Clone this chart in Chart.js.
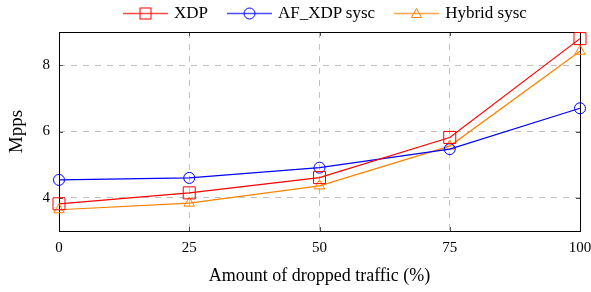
<!DOCTYPE html>
<html>
<head>
<meta charset="utf-8">
<script src="https://cdn.jsdelivr.net/npm/chart.js@4.4.1/dist/chart.umd.min.js"></script>
<style>
    html, body { margin: 0; padding: 0; background: #fff; }
    .wrap { position: relative; width: 591px; height: 292px; }
    .legend {
        position: absolute; left: 123px; top: 3px; height: 20px;
        display: flex; align-items: center;
        font-family: 'Liberation Serif', 'DejaVu Serif', serif; font-size: 17px; color: #000;
    }
    .legend-item { display: flex; align-items: center; margin-right: 19px; }
    .legend-item svg { margin-right: 6px; }
</style>
</head>
<body>
<div class="wrap">
    <canvas id="chart" width="591" height="292"></canvas>
    <div class="legend" id="legend"></div>
</div>
<script>
const traffic = [0, 25, 50, 75, 100];
const xdp = [3.82, 4.15, 4.61, 5.82, 8.80];
const afXdpSysc = [4.54, 4.60, 4.91, 5.47, 6.70];
const hybridSysc = [3.64, 3.84, 4.36, 5.56, 8.42];
const yTicks = [4, 6, 8];
const xTicks = [0, 25, 50, 75, 100];

const seriesInfo = [
    { label: 'XDP', data: xdp, color: '#ff0000', marker: 'rect', radius: 8.5 },
    { label: 'AF_XDP sysc', data: afXdpSysc, color: '#0000ff', marker: 'circle', radius: 5.5 },
    { label: 'Hybrid sysc', data: hybridSysc, color: '#ff8000', marker: 'triangle', radius: 6 }
];

const serif = "'Liberation Serif', 'DejaVu Serif', serif";

function markerSvg(s) {
    let shape = '';
    if (s.marker === 'rect') {
        shape = `<rect x="17" y="3" width="11" height="11" fill="none" stroke="${s.color}" stroke-width="1"/>`;
    } else if (s.marker === 'circle') {
        shape = `<circle cx="22.5" cy="8.5" r="5.5" fill="none" stroke="${s.color}" stroke-width="1"/>`;
    } else {
        shape = `<polygon points="22.5,3.5 27.5,12.5 17.5,12.5" fill="none" stroke="${s.color}" stroke-width="1"/>`;
    }
    return `<svg width="45" height="17" viewBox="0 0 45 17">
        <line x1="0" y1="8.5" x2="45" y2="8.5" stroke="${s.color}" stroke-opacity="0.7" stroke-width="1.4"/>
        ${shape}</svg>`;
}

function renderLegend() {
    const legend = document.getElementById('legend');
    legend.innerHTML = seriesInfo.map(s =>
        `<div class="legend-item">${markerSvg(s)}<span>${s.label}</span></div>`
    ).join('');
}

// box round the plot area plus the short dark tick marks on the inside
const framePlugin = {
    id: 'frame',
    beforeDatasetsDraw(chart) {
        const { ctx, chartArea: a, scales } = chart;
        ctx.save();
        ctx.strokeStyle = '#555';
        ctx.lineWidth = 1;
        ctx.beginPath();
        yTicks.forEach(v => {
            const y = Math.round(scales.y.getPixelForValue(v)) + 0.5;
            ctx.moveTo(a.left, y); ctx.lineTo(a.left + 4, y);
            ctx.moveTo(a.right - 4, y); ctx.lineTo(a.right, y);
        });
        xTicks.forEach(v => {
            const x = Math.round(scales.x.getPixelForValue(v)) + 0.5;
            ctx.moveTo(x, a.bottom); ctx.lineTo(x, a.bottom - 4);
            ctx.moveTo(x, a.top); ctx.lineTo(x, a.top + 4);
        });
        ctx.stroke();
        ctx.strokeStyle = '#000';
        ctx.strokeRect(Math.round(a.left) + 0.5, Math.round(a.top) + 0.5,
            Math.round(a.right - a.left), Math.round(a.bottom - a.top));
        ctx.restore();
    }
};

function renderChart() {
    const canvas = document.getElementById('chart');

    new Chart(canvas, {
        type: 'line',
        data: {
            datasets: seriesInfo.map(s => ({
                label: s.label,
                data: traffic.map((x, i) => ({ x, y: s.data[i] })),
                borderColor: s.color,
                borderWidth: 1.2,
                backgroundColor: 'transparent',
                pointStyle: s.marker,
                pointRadius: s.radius,
                pointBorderWidth: 1,
                pointBorderColor: s.color,
                pointBackgroundColor: 'transparent',
                tension: 0,
                clip: false
            }))
        },
        options: {
            responsive: false,
            animation: false,
            layout: { padding: { top: 32, right: 11, left: 0, bottom: 0 } },
            plugins: {
                legend: { display: false },
                tooltip: { enabled: false }
            },
            scales: {
                x: {
                    type: 'linear',
                    min: 0,
                    max: 100,
                    afterBuildTicks: scale => { scale.ticks = xTicks.map(v => ({ value: v })); },
                    afterFit: scale => {
                        scale.height = 61;
                        scale.paddingLeft = 0;
                        scale.paddingRight = 0;
                    },
                    grid: {
                        drawTicks: false,
                        color: ctx => (ctx.tick && (ctx.tick.value === 0 || ctx.tick.value === 100)) ? 'transparent' : '#c0c0c0',
                        lineWidth: 1
                    },
                    border: { display: false, dash: [6, 6] },
                    ticks: {
                        padding: 8,
                        color: '#000',
                        font: { family: serif, size: 15 }
                    },
                    title: {
                        display: true,
                        text: 'Amount of dropped traffic (%)',
                        color: '#000',
                        font: { family: serif, size: 18 },
                        padding: { top: 6, bottom: 5 }
                    }
                },
                y: {
                    min: 3,
                    max: 9,
                    afterBuildTicks: scale => { scale.ticks = yTicks.map(v => ({ value: v })); },
                    afterFit: scale => { scale.width = 59; },
                    grid: {
                        drawTicks: false,
                        color: '#c0c0c0',
                        lineWidth: 1
                    },
                    border: { display: false, dash: [6, 6] },
                    ticks: {
                        padding: 9,
                        color: '#000',
                        font: { family: serif, size: 15 }
                    },
                    title: {
                        display: true,
                        text: 'Mpps',
                        color: '#000',
                        font: { family: serif, size: 19 },
                        padding: { top: 6, bottom: 8 }
                    }
                }
            }
        },
        plugins: [framePlugin]
    });
}

renderLegend();
renderChart();
</script>
</body>
</html>
